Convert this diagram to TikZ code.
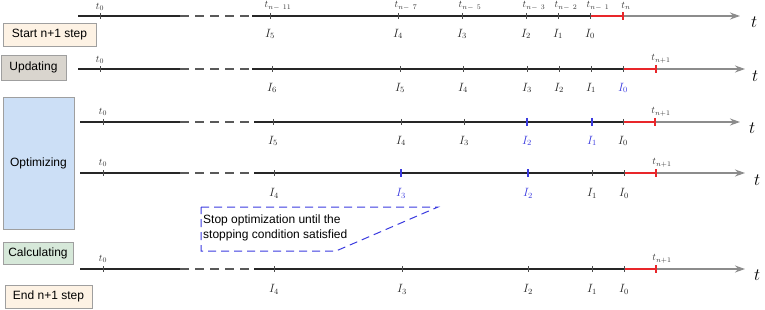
\documentclass[tikz,border=0pt]{standalone}
\usepackage{fontspec}
\setsansfont{Liberation Sans}
\usepackage{tikz}
\usetikzlibrary{positioning,arrows.meta}
\definecolor{startcol}{HTML}{FDF2E4}
\definecolor{updcol}{HTML}{D9D5CE}
\definecolor{optcol}{HTML}{CCDFF6}
\definecolor{calccol}{HTML}{D6E8D9}
\definecolor{redline}{HTML}{E8262A}
\definecolor{grayline}{HTML}{8C8C8C}
\definecolor{bluemark}{HTML}{3A3ADF}

\begin{document}
\begin{tikzpicture}[
  x=1pt, y=-1pt,
  stage/.style={draw=gray!75, line width=0.6pt, font=\sffamily\fontsize{12}{14}\selectfont, inner sep=0pt},
  solidline/.style={line width=1.5pt, black!85},
  gapline/.style={line width=1.2pt, black!65, dash pattern=on 9pt off 6pt},
  redseg/.style={line width=1.5pt, redline},
  timearrow/.style={line width=1.5pt, grayline, -{Stealth[length=10pt,width=7pt]}},
  tick/.style={line width=0.4pt, black!70},
  bluetick/.style={line width=1.2pt, bluemark},
  redtick/.style={line width=1.2pt, redline},
  tlbl/.style={font=\fontsize{10}{12}\selectfont, inner sep=1pt, text=black!80},
  ilbl/.style={font=\fontsize{12}{14}\selectfont, inner sep=1pt, text=black!85},
  axislbl/.style={font=\fontsize{18}{20}\selectfont, anchor=west, inner sep=0pt},
]
\useasboundingbox (0,0) rectangle (765,310);

% Stage boxes on the left
\node[stage, fill=startcol, minimum width=93pt, minimum height=23pt] (start) at (49.5,34.5) {Start n+1 step};
\node[stage, fill=updcol, minimum width=65pt, minimum height=25pt] (upd) at (33.5,67.5) {Updating};
\node[stage, fill=optcol, minimum width=71pt, minimum height=132pt] (opt) at (38.5,163) {Optimizing};
\node[stage, fill=calccol, minimum width=70pt, minimum height=22pt] (calc) at (38,253) {Calculating};
\node[stage, fill=startcol, minimum width=87pt, minimum height=23pt] (stop) at (48.5,296.5) {End n+1 step};

% Row 1: start of step n+1
\coordinate (a1) at (78,16);
\coordinate (b1) at (180,16);
\coordinate (c1) at (252,16);
\coordinate (d1) at (590,16);
\coordinate (e1) at (623,16);
\coordinate (f1) at (740,16);
\draw[solidline] (a1) -- (b1);
\draw[gapline] (b1) -- (c1);
\draw[solidline] (c1) -- (d1);
\draw[redseg] (d1) -- (e1);
\draw[timearrow] (e1) -- (f1);
\draw[redtick] (e1) ++(0,-4) -- ++(0,8);
\node[axislbl] (ax1) at (751,22) {$t$};
\draw[tick] (100,13) -- (100,19);
\node[tlbl] (t1z) at (100,7) {$t_0$};
\node[tlbl] (t1n) at (626,6) {$t_n$};
\foreach \x/\i/\k in {270/5/11, 398/4/7, 462/3/5, 526/2/3, 558/1/2, 590/0/1} {
  \draw[tick] (\x,13) -- (\x,19);
  \node[tlbl] (t1-\i) at (\x+8,6) {$t_{n-\ \k}$};
  \node[ilbl] (i1-\i) at (\x,34) {$I_{\i}$};
}

% Row 2: updating
\coordinate (a2) at (78,69);
\coordinate (b2) at (180,69);
\coordinate (c2) at (252,69);
\coordinate (d2) at (623,69);
\coordinate (e2) at (656,69);
\coordinate (f2) at (745,69);
\draw[solidline] (a2) -- (b2);
\draw[gapline] (b2) -- (c2);
\draw[solidline] (c2) -- (d2);
\draw[redseg] (d2) -- (e2);
\draw[timearrow] (e2) -- (f2);
\draw[redtick] (e2) ++(0,-4) -- ++(0,8);
\node[axislbl] (ax2) at (752,76) {$t$};
\draw[tick] (100,66) -- (100,72);
\node[tlbl] (t2z) at (100,60) {$t_0$};
\node[tlbl] (t2n) at (661,59) {$t_{n+1}$};
\foreach \x/\i in {272/6, 400/5, 463/4, 527/3, 559/2, 591/1} {
  \draw[tick] (\x,66) -- (\x,72);
  \node[ilbl] (i2-\i) at (\x,88) {$I_{\i}$};
}
\draw[tick] (623,66) -- (623,72);
\node[ilbl, text=bluemark] (i2-0) at (623,88) {$I_0$};

% Row 3: optimizing, first pass
\coordinate (a3) at (80,122);
\coordinate (b3) at (180,122);
\coordinate (c3) at (254,122);
\coordinate (d3) at (623,122);
\coordinate (e3) at (655,122);
\coordinate (f3) at (740,122);
\draw[solidline] (a3) -- (b3);
\draw[gapline] (b3) -- (c3);
\draw[solidline] (c3) -- (d3);
\draw[redseg] (d3) -- (e3);
\draw[timearrow] (e3) -- (f3);
\draw[redtick] (e3) ++(0,-4) -- ++(0,8);
\node[axislbl] (ax3) at (749,128) {$t$};
\draw[tick] (103,119) -- (103,125);
\node[tlbl] (t3z) at (103,112) {$t_0$};
\node[tlbl] (t3n) at (661,112) {$t_{n+1}$};
\foreach \x/\i in {273/5, 401/4, 464/3, 623/0} {
  \draw[tick] (\x,119) -- (\x,125);
  \node[ilbl] (i3-\i) at (\x,141) {$I_{\i}$};
}
\foreach \x/\i in {527/2, 592/1} {
  \draw[bluetick] (\x,118) -- (\x,126);
  \node[ilbl, text=bluemark] (i3-\i) at (\x,141) {$I_{\i}$};
}

% Row 4: optimizing, next pass
\coordinate (a4) at (80,173);
\coordinate (b4) at (180,173);
\coordinate (c4) at (254,173);
\coordinate (d4) at (624,173);
\coordinate (e4) at (656,173);
\coordinate (f4) at (745,173);
\draw[solidline] (a4) -- (b4);
\draw[gapline] (b4) -- (c4);
\draw[solidline] (c4) -- (d4);
\draw[redseg] (d4) -- (e4);
\draw[timearrow] (e4) -- (f4);
\draw[redtick] (e4) ++(0,-4) -- ++(0,8);
\node[axislbl] (ax4) at (754,180) {$t$};
\draw[tick] (103,170) -- (103,176);
\node[tlbl] (t4z) at (103,163) {$t_0$};
\node[tlbl] (t4n) at (662,163) {$t_{n+1}$};
\foreach \x/\i in {274/4, 592/1, 624/0} {
  \draw[tick] (\x,170) -- (\x,176);
  \node[ilbl] (i4-\i) at (\x,193) {$I_{\i}$};
}
\foreach \x/\i in {401/3, 528/2} {
  \draw[bluetick] (\x,169) -- (\x,177);
  \node[ilbl, text=bluemark] (i4-\i) at (\x,193) {$I_{\i}$};
}

% Callout for the stopping condition
\coordinate (q1) at (201,207);
\coordinate (q2) at (438,207);
\coordinate (q3) at (336,251);
\coordinate (q4) at (201,251);
\draw[bluemark, line width=1pt, dash pattern=on 8pt off 5pt] (q1) -- (q2) -- (q3) -- (q4) -- cycle;
\node[font=\sffamily\fontsize{12}{14.5}\selectfont, align=left, anchor=north west, inner sep=0pt] (note) at (203,215) {Stop optimization until the\\stopping condition satisfied};

% Row 5: end of step n+1
\coordinate (a5) at (80,269);
\coordinate (b5) at (180,269);
\coordinate (c5) at (254,269);
\coordinate (d5) at (624,269);
\coordinate (e5) at (656,269);
\coordinate (f5) at (745,269);
\draw[solidline] (a5) -- (b5);
\draw[gapline] (b5) -- (c5);
\draw[solidline] (c5) -- (d5);
\draw[redseg] (d5) -- (e5);
\draw[timearrow] (e5) -- (f5);
\draw[redtick] (e5) ++(0,-4) -- ++(0,8);
\node[axislbl] (ax5) at (754,275) {$t$};
\draw[tick] (103,266) -- (103,272);
\node[tlbl] (t5z) at (103,259) {$t_0$};
\node[tlbl] (t5n) at (662,259) {$t_{n+1}$};
\foreach \x/\i in {274/4, 402/3, 528/2, 592/1, 624/0} {
  \draw[tick] (\x,266) -- (\x,272);
  \node[ilbl] (i5-\i) at (\x,289) {$I_{\i}$};
}

\end{tikzpicture}
\end{document}
